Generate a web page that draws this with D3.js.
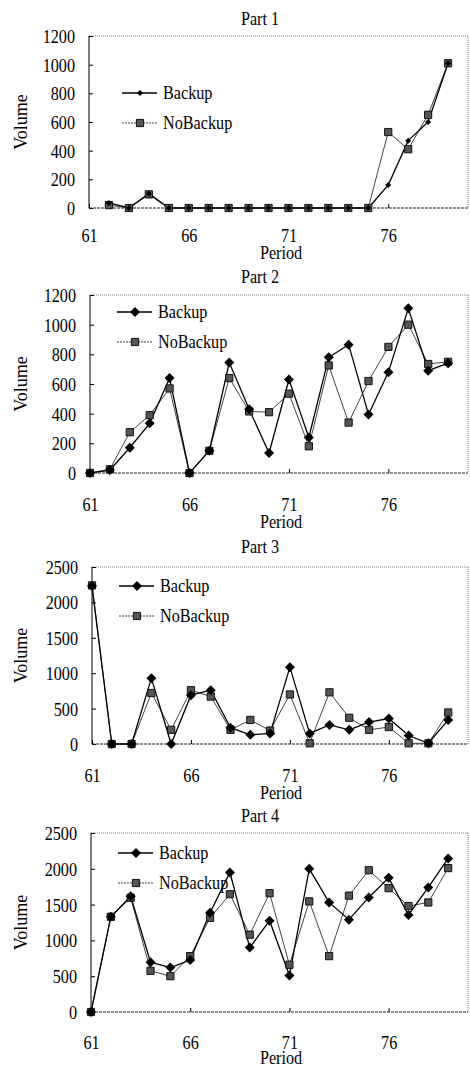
<!DOCTYPE html>
<html>
<head>
<meta charset="utf-8">
<script src="https://cdn.jsdelivr.net/npm/d3@7"></script>
<style>
  body { margin: 0; background: #fff; }
  text { font-family: "Liberation Serif", "Times New Roman", serif; fill: #000; }
</style>
</head>
<body>
<div id="chart"></div>
<script>
// data
var periods = [61, 62, 63, 64, 65, 66, 67, 68, 69, 70, 71, 72, 73, 74, 75, 76, 77, 78, 79];
var xTickLabels = [61, 66, 71, 76];
var titles = ["Part 1", "Part 2", "Part 3", "Part 4"];
var seriesNames = ["Backup", "NoBackup"];

var part1Backup   = [null, 35, 0, 100, 0, 0, 0, 0, 0, 0, 0, 0, 0, 0, 0, 160, 470, 600, 1010];
var part1NoBackup = [null, 20, 0, 95, 0, 0, 0, 0, 0, 0, 0, 0, 0, 0, 0, 530, 410, 650, 1010];

var part2Backup   = [0, 20, 170, 335, 640, 0, 150, 745, 430, 135, 630, 240, 780, 865, 395, 680, 1110, 690, 740];
var part2NoBackup = [0, 25, 275, 390, 570, 0, 150, 640, 415, 410, 535, 180, 725, 340, 620, 850, 1000, 735, 750];

var part3Backup   = [2230, 0, 0, 930, 0, 690, 760, 230, 130, 150, 1085, 150, 270, 200, 310, 360, 120, 10, 340];
var part3NoBackup = [2240, 0, 0, 720, 200, 760, 670, 200, 340, 190, 700, 10, 730, 370, 200, 240, 10, 10, 445];

var part4Backup   = [0, 1330, 1615, 695, 620, 725, 1385, 1950, 900, 1275, 510, 2000, 1530, 1290, 1600, 1875, 1355, 1740, 2145];
var part4NoBackup = [0, 1330, 1595, 575, 500, 780, 1315, 1645, 1080, 1660, 660, 1545, 780, 1625, 1980, 1730, 1480, 1530, 2010];

var yTicksSmall = [0, 200, 400, 600, 800, 1000, 1200];
var yTicksLarge = [0, 500, 1000, 1500, 2000, 2500];

var W = 470, H = 1068, fs = 18, sx = 0.9;

var panels = [
  { backup: part1Backup, noBackup: part1NoBackup, ymax: 1200, ticks: yTicksSmall,
    title: 25, top: 36, bottom: 208, left: 89, tickY: 34, periodY: 51, legY: 57, legX: 122, dr: 3 },
  { backup: part2Backup, noBackup: part2NoBackup, ymax: 1200, ticks: yTicksSmall,
    title: 283, top: 295, bottom: 473, left: 90, tickY: 38, periodY: 55, legY: 17, legX: 117, dr: 5 },
  { backup: part3Backup, noBackup: part3NoBackup, ymax: 2500, ticks: yTicksLarge,
    title: 553, top: 567, bottom: 744, left: 92, tickY: 38, periodY: 55, legY: 19, legX: 119, dr: 5 },
  { backup: part4Backup, noBackup: part4NoBackup, ymax: 2500, ticks: yTicksLarge,
    title: 822, top: 833, bottom: 1012, left: 91, tickY: 37, periodY: 52, legY: 20, legX: 118, dr: 5 }
];

var svg = d3.select("#chart").append("svg")
    .attr("width", W)
    .attr("height", H);

// narrow serif text like the original
function label(g, x, y, str, anchor) {
  return g.append("text")
    .attr("transform", "translate(" + x + "," + y + ") scale(" + sx + ",1)")
    .attr("text-anchor", anchor || "start")
    .style("font-size", fs + "px")
    .text(str);
}

// square diamond (d3's symbolDiamond is too tall)
function diamondPath(r) {
  return "M0," + (-r) + "L" + r + ",0L0," + r + "L" + (-r) + ",0Z";
}
var square = d3.symbol().type(d3.symbolSquare).size(52);

function drawPanel(p, idx) {
  var g = svg.append("g");
  var right = 468;

  var x = d3.scaleLinear().domain([61, 80]).range([p.left, right]);
  var y = d3.scaleLinear().domain([0, p.ymax]).range([p.bottom, p.top]);

  // frame
  g.append("line").attr("x1", p.left).attr("x2", right).attr("y1", p.top).attr("y2", p.top)
    .attr("stroke", "#777").attr("stroke-dasharray", "1,1");
  g.append("line").attr("x1", right).attr("x2", right).attr("y1", p.top).attr("y2", p.bottom)
    .attr("stroke", "#777").attr("stroke-dasharray", "1,1");

  // y axis
  var yAxis = g.append("g")
    .attr("transform", "translate(" + p.left + ",0)")
    .call(d3.axisLeft(y).tickValues(p.ticks).tickSize(-4).tickFormat(d3.format("d")));
  yAxis.select(".domain").remove();
  yAxis.selectAll(".tick line").attr("stroke", "#000");
  yAxis.selectAll(".tick text")
    .attr("x", -14 / sx)
    .attr("dy", "0.36em")
    .attr("transform", "scale(" + sx + ",1)")
    .style("font-size", fs + "px")
    .style("font-family", '"Liberation Serif", serif');
  g.append("line").attr("x1", p.left).attr("x2", p.left).attr("y1", p.top).attr("y2", p.bottom)
    .attr("stroke", "#000");

  // x axis
  var xAxis = g.append("g")
    .attr("transform", "translate(0," + p.bottom + ")")
    .call(d3.axisBottom(x).tickValues(xTickLabels).tickSize(-4).tickFormat(d3.format("d")));
  xAxis.select(".domain").remove();
  xAxis.selectAll(".tick line").attr("stroke", "#000");
  xAxis.selectAll(".tick text")
    .attr("y", p.tickY)
    .attr("dy", 0)
    .attr("transform", "scale(" + sx + ",1)")
    .style("font-size", fs + "px")
    .style("font-family", '"Liberation Serif", serif');
  g.append("line").attr("x1", p.left).attr("x2", right).attr("y1", p.bottom).attr("y2", p.bottom)
    .attr("stroke", "#222").attr("stroke-dasharray", "3,1");

  // titles
  label(g, 260, p.title, titles[idx], "middle");
  label(g, 281, p.bottom + p.periodY, "Period", "middle");
  g.append("text")
    .attr("transform", "translate(27," + ((p.top + p.bottom) / 2) + ") rotate(-90)")
    .attr("text-anchor", "middle")
    .style("font-size", fs + "px")
    .text("Volume");

  var rows = periods.map(function(d, i) {
    return { period: d, backup: p.backup[i], noBackup: p.noBackup[i] };
  });

  // NoBackup series
  var lineNo = d3.line()
    .defined(function(d) { return d.noBackup !== null; })
    .x(function(d) { return x(d.period); })
    .y(function(d) { return y(d.noBackup); });
  g.append("path").datum(rows).attr("d", lineNo)
    .attr("fill", "none").attr("stroke", "#444").attr("stroke-width", 1);

  // Backup series
  var lineB = d3.line()
    .defined(function(d) { return d.backup !== null; })
    .x(function(d) { return x(d.period); })
    .y(function(d) { return y(d.backup); });
  g.append("path").datum(rows).attr("d", lineB)
    .attr("fill", "none").attr("stroke", "#000").attr("stroke-width", 1.3);

  g.selectAll(".sq").data(rows.filter(function(d) { return d.noBackup !== null; }))
    .enter().append("path")
    .attr("class", "sq")
    .attr("transform", function(d) { return "translate(" + x(d.period) + "," + y(d.noBackup) + ")"; })
    .attr("d", square)
    .attr("fill", "#555").attr("stroke", "#111").attr("stroke-width", 1);

  g.selectAll(".dm").data(rows.filter(function(d) { return d.backup !== null; }))
    .enter().append("path")
    .attr("class", "dm")
    .attr("transform", function(d) { return "translate(" + x(d.period) + "," + y(d.backup) + ")"; })
    .attr("d", diamondPath(p.dr))
    .attr("fill", "#000");

  // legend
  var ly1 = p.top + p.legY, ly2 = p.top + p.legY + 30;
  g.append("line").attr("x1", p.legX).attr("x2", p.legX + 35).attr("y1", ly1).attr("y2", ly1)
    .attr("stroke", "#000").attr("stroke-width", 1.5);
  g.append("path").attr("transform", "translate(" + (p.legX + 18) + "," + ly1 + ")")
    .attr("d", diamondPath(p.dr)).attr("fill", "#000");
  label(g, p.legX + 41, ly1 + 6, seriesNames[0]);

  g.append("line").attr("x1", p.legX).attr("x2", p.legX + 35).attr("y1", ly2).attr("y2", ly2)
    .attr("stroke", "#444").attr("stroke-dasharray", "2,1");
  g.append("path").attr("transform", "translate(" + (p.legX + 18) + "," + ly2 + ")")
    .attr("d", square).attr("fill", "#555").attr("stroke", "#111");
  label(g, p.legX + 41, ly2 + 6, seriesNames[1]);
}

panels.forEach(drawPanel);
</script>
</body>
</html>
